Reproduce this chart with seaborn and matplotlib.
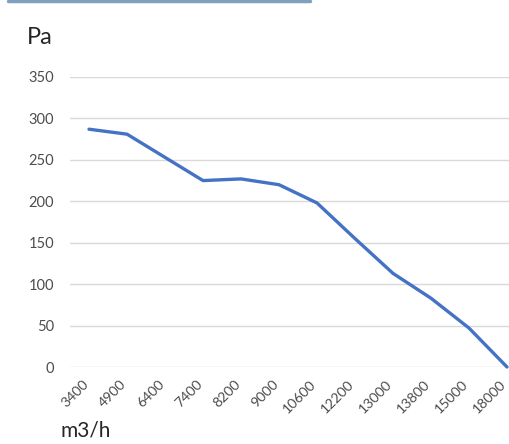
import matplotlib
matplotlib.use("Agg")
import matplotlib.pyplot as plt
import matplotlib.transforms as mtransforms
import seaborn as sns
import pandas as pd
from matplotlib.lines import Line2D

flow = ["3400", "4900", "6400", "7400", "8200", "9000", "10600", "12200",
        "13000", "13800", "15000", "18000"]
pressure = [287, 281, 253, 225, 227, 220, 198, 155, 113, 83, 47, 0]
yticks = [0, 50, 100, 150, 200, 250, 300, 350]

sns.set_theme(style="white")
plt.rcParams['font.family'] = ['Lato', 'DejaVu Sans']

df = pd.DataFrame({"flow": flow, "pressure": pressure, "idx": range(len(flow))})

fig = plt.figure(figsize=(5.1, 4.44), dpi=100)
W, H = 510, 444
left, right, top, bottom = 70, 526, 77, 367
ax = fig.add_axes([left / W, 1 - bottom / H, (right - left) / W, (bottom - top) / H])

sns.lineplot(data=df, x="idx", y="pressure", ax=ax, color="#4472C4", linewidth=2.4, clip_on=False)

ax.set_xlim(-0.5, len(flow) - 0.5)
ax.set_ylim(0, 350)
ax.set_yticks(yticks)
ax.set_yticklabels([str(v) for v in yticks], fontsize=10.5, color="#4D4D4D")
ax.set_xticks(range(len(flow)))
ax.set_xticklabels(flow, rotation=45, ha="right", rotation_mode="anchor", fontsize=10.2, color="#4D4D4D")
ax.tick_params(axis="x", length=0, pad=8)
ax.tick_params(axis="y", length=0, pad=11.5)
shift = mtransforms.ScaledTranslation(-7 / 100, 0, fig.dpi_scale_trans)
for lab in ax.get_xticklabels():
    lab.set_transform(lab.get_transform() + shift)
ax.grid(axis="y", color="#D9D9D9", linewidth=1)
ax.set_axisbelow(True)
for s in ax.spines.values():
    s.set_visible(False)
ax.set_xlabel("")
ax.set_ylabel("")

fig.text(27 / W, 1 - 38 / H, "Pa", fontsize=17, color="#262626", va="center", ha="left")
fig.text(61 / W, 1 - 430 / H, "m3/h", fontsize=15, color="#262626", va="center", ha="left")
fig.add_artist(Line2D([8 / W, 310 / W], [1 - 1 / H, 1 - 1 / H], color="#7FA0BE", linewidth=2.5,
                      transform=fig.transFigure))

fig.savefig("out.png", dpi=100)
